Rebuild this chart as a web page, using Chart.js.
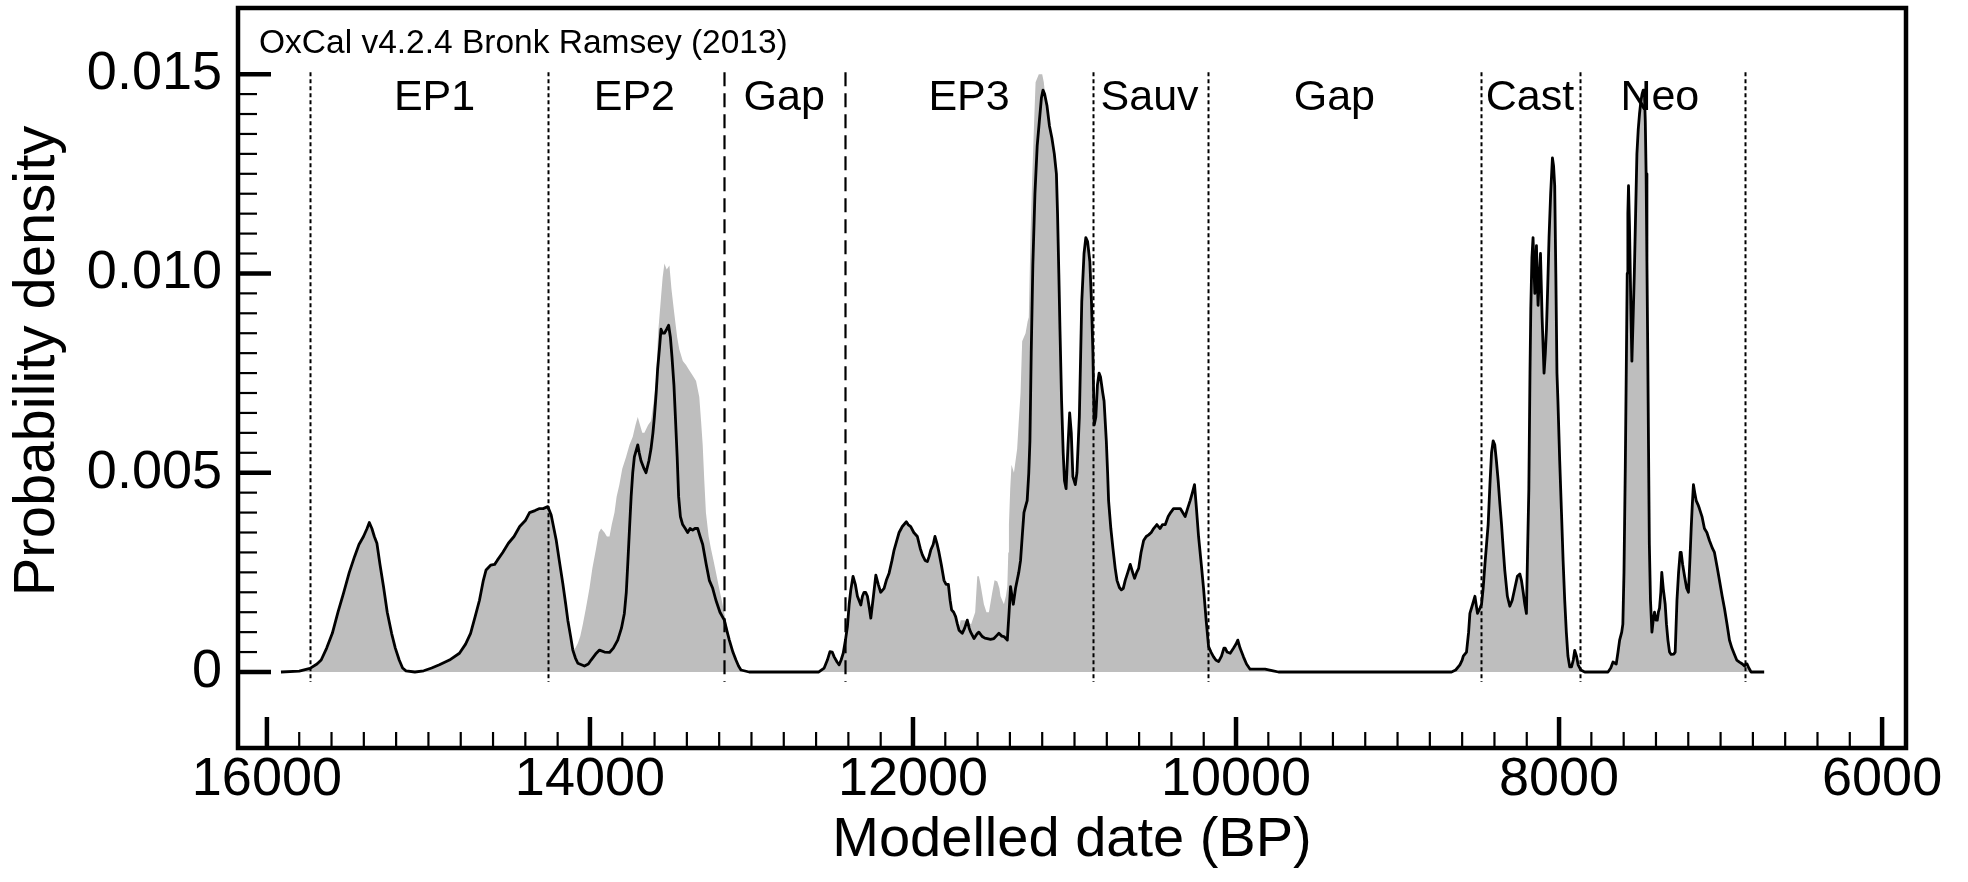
<!DOCTYPE html>
<html>
<head>
<meta charset="utf-8">
<script src="https://cdn.jsdelivr.net/npm/chart.js@4.4.0/dist/chart.umd.min.js"></script>
<style>
  html, body { margin: 0; padding: 0; background: #fff; }
  #wrap { width: 1968px; height: 882px; }
</style>
</head>
<body>
<div id="wrap"><canvas id="c" width="1968" height="882"></canvas></div>
<script>
// ---------------- DATA ----------------
// Modelled summed probability (black outline), [year BP, density]
const modelledEarly = [
  [15913,0],[15800,0.00002],[15733,0.00009],[15690,0.0002],[15664,0.0003],[15630,0.0006],[15595,0.00097],
  [15560,0.0015],[15526,0.00197],[15490,0.0025],[15457,0.0029],[15430,0.0032],[15402,0.0034],[15380,0.0036],
  [15366,0.00375],[15350,0.0036],[15335,0.0034],[15319,0.00323],[15300,0.0027],[15278,0.00214],[15255,0.0015],
  [15228,0.00097],[15205,0.0006],[15181,0.0003],[15160,0.0001],[15139,0.00003],[15084,0],[15029,0.00003],
  [14980,0.0001],[14932,0.00018],[14870,0.0003],[14808,0.00047],[14770,0.0007],[14739,0.00097],[14710,0.0014],
  [14684,0.0018],[14660,0.0023],[14643,0.00256],[14615,0.00268],[14590,0.0027],[14574,0.0028],[14540,0.003],
  [14505,0.00323],[14470,0.0034],[14435,0.00365],[14400,0.0038],[14374,0.004],[14340,0.00405],[14312,0.0041],
  [14290,0.0041],[14261,0.00415],[14240,0.00394],[14209,0.00331],[14190,0.0028],[14168,0.00222],[14150,0.0017],
  [14137,0.0013],[14120,0.0009],[14106,0.00055],[14090,0.00035],[14075,0.00022],[14034,0.00015],[14010,0.0002],
  [13993,0.0003],[13965,0.00045],[13941,0.00055],[13910,0.0005],[13879,0.00049],[13855,0.0006],[13828,0.0008],
  [13805,0.0011],[13787,0.00147],[13775,0.002],[13766,0.0027],[13755,0.0036],[13745,0.0044],[13735,0.005],
  [13725,0.0054],[13704,0.0057],[13695,0.0055],[13684,0.0053],[13665,0.0051],[13653,0.005],[13635,0.0053],
  [13622,0.0056],[13610,0.006],[13601,0.0064],[13590,0.007],[13581,0.0076],[13570,0.0081],[13560,0.0086],
  [13550,0.0085],[13539,0.0085],[13525,0.0086],[13513,0.0087],[13502,0.0084],[13492,0.0079],[13480,0.0072],
  [13471,0.0064],[13460,0.0054],[13451,0.0044],[13440,0.0039],[13426,0.0037],[13410,0.0036],[13395,0.0035],
  [13380,0.0036],[13364,0.00356],[13350,0.0036],[13333,0.0036],[13318,0.0034],[13302,0.0032],[13280,0.0027],
  [13261,0.0023],[13240,0.0021],[13220,0.0018],[13195,0.0015],[13168,0.0013],[13150,0.001],[13137,0.0008],
  [13115,0.0005],[13096,0.0003],[13080,0.00015],[13065,0.00005],[13014,0]
];
const modelledMiddle = [
  [12583,0],[12550,0.0001],[12530,0.0003],[12514,0.00051],[12500,0.0005],[12488,0.00038],[12470,0.00025],
  [12457,0.00018],[12445,0.0003],[12432,0.00047],[12418,0.0008],[12406,0.00114],[12395,0.0017],[12385,0.00206],
  [12371,0.0024],[12357,0.0022],[12344,0.0019],[12323,0.00168],[12313,0.0019],[12303,0.002],[12293,0.002],
  [12282,0.0019],[12270,0.0016],[12261,0.00135],[12245,0.0019],[12230,0.00243],[12215,0.0022],[12200,0.002],
  [12179,0.0021],[12165,0.0023],[12148,0.00248],[12130,0.0028],[12117,0.00306],[12100,0.0033],[12086,0.0035],
  [12066,0.00365],[12041,0.00377],[12030,0.0037],[12014,0.00365],[11995,0.0035],[11973,0.0034],[11955,0.0031],
  [11942,0.00294],[11925,0.0028],[11911,0.00277],[11900,0.0029],[11890,0.00306],[11875,0.0032],[11864,0.0034],
  [11850,0.0032],[11839,0.003],[11825,0.0027],[11808,0.0023],[11795,0.0022],[11781,0.0022],[11770,0.0018],
  [11761,0.00156],[11748,0.0015],[11736,0.00139],[11725,0.0012],[11715,0.00105],[11695,0.00097],[11680,0.0011],
  [11664,0.0013],[11652,0.0011],[11643,0.001],[11622,0.00084],[11605,0.00095],[11592,0.001],[11571,0.00089],
  [11555,0.00085],[11540,0.00084],[11520,0.00082],[11499,0.00084],[11485,0.0009],[11468,0.00097],[11450,0.0009],
  [11437,0.00089],[11416,0.0008],[11405,0.0015],[11396,0.00214],[11387,0.0019],[11379,0.0017],[11365,0.0021],
  [11355,0.0023],[11345,0.0025],[11334,0.0028],[11322,0.0035],[11313,0.004],[11300,0.0042],[11293,0.0043],
  [11283,0.005],[11276,0.0058],[11268,0.008],[11258,0.0102],[11245,0.012],[11231,0.0132],[11218,0.0138],
  [11205,0.0144],[11195,0.0146],[11185,0.0145],[11170,0.0142],[11155,0.0137],[11140,0.0134],[11125,0.013],
  [11112,0.0125],[11105,0.0115],[11097,0.01],[11090,0.0086],[11080,0.0068],[11070,0.0055],[11062,0.0048],
  [11052,0.0046],[11040,0.0057],[11030,0.0065],[11020,0.006],[11010,0.0049],[10995,0.0047],[10985,0.005],
  [10970,0.0064],[10955,0.0093],[10941,0.0105],[10930,0.0109],[10919,0.0108],[10905,0.0103],[10895,0.0093],
  [10886,0.008],[10878,0.0062],[10868,0.0064],[10858,0.0072],[10848,0.0075],[10839,0.0074],[10825,0.007],
  [10817,0.0068],[10803,0.0058],[10795,0.005],[10789,0.0043],[10775,0.0036],[10762,0.0031],[10748,0.0026],
  [10737,0.0023],[10722,0.00212],[10710,0.00206],[10698,0.0021],[10686,0.0023],[10670,0.0025],[10655,0.0027],
  [10640,0.0025],[10628,0.00235],[10615,0.0025],[10603,0.0026],[10588,0.003],[10572,0.0033],[10556,0.0034],
  [10541,0.00344],[10525,0.0035],[10510,0.0036],[10490,0.0037],[10470,0.0036],[10455,0.0037],[10438,0.0037],
  [10420,0.0039],[10405,0.004],[10387,0.0041],[10365,0.0041],[10345,0.0041],[10330,0.004],[10315,0.0039],
  [10300,0.0041],[10284,0.0043],[10270,0.0045],[10257,0.0047],[10245,0.0041],[10232,0.0034],[10215,0.0027],
  [10201,0.0021],[10185,0.0013],[10170,0.00064],[10155,0.0005],[10139,0.00038],[10125,0.0003],[10108,0.00026],
  [10090,0.0004],[10075,0.0006],[10067,0.0006],[10055,0.0005],[10036,0.00047],[10015,0.0006],[10000,0.0007],
  [9989,0.0008],[9975,0.0006],[9954,0.00038],[9935,0.0002],[9913,0.00007],[9870,0.00007],[9820,0.00007],
  [9770,0.00003],[9737,0]
];
const modelledCast = [
  [8680,0],[8666,0],[8640,0.00005],[8614,0.00018],[8600,0.0003],[8593,0.0004],[8573,0.0005],[8560,0.001],
  [8552,0.00147],[8535,0.0017],[8521,0.0019],[8505,0.00147],[8490,0.0016],[8480,0.0017],[8470,0.0021],
  [8459,0.0027],[8449,0.0032],[8439,0.0037],[8428,0.0047],[8418,0.0055],[8408,0.0058],[8398,0.0057],
  [8388,0.0053],[8377,0.0048],[8366,0.0042],[8356,0.0037],[8346,0.0031],[8336,0.00255],[8320,0.0019],
  [8305,0.00165],[8290,0.0018],[8274,0.0021],[8258,0.0024],[8243,0.00246],[8233,0.0023],[8222,0.002],
  [8212,0.0017],[8202,0.00147],[8195,0.003],[8187,0.0046],[8180,0.0075],[8175,0.0091],[8168,0.0104],
  [8161,0.0109],[8155,0.0101],[8150,0.0095],[8145,0.0101],[8140,0.0107],[8135,0.0099],[8130,0.0092],
  [8122,0.0099],[8115,0.0105],[8110,0.0097],[8105,0.0089],[8099,0.0082],[8093,0.0075],[8085,0.008],
  [8078,0.0086],[8070,0.0097],[8062,0.0109],[8052,0.012],[8041,0.0129],[8034,0.0127],[8027,0.0122],
  [8020,0.01],[8013,0.0075],[8007,0.0068],[7996,0.0053],[7985,0.004],[7975,0.0028],[7965,0.0018],
  [7955,0.001],[7945,0.0004],[7934,0.00013],[7923,0.00013],[7912,0.0003],[7903,0.00054],[7892,0.0004],
  [7882,0.00018],[7865,0.00005],[7841,0]
];
const modelledNeo = [
  [7697,0],[7680,0.0001],[7666,0.00025],[7646,0.0002],[7635,0.0005],[7625,0.0008],[7612,0.001],[7605,0.0012],
  [7598,0.0025],[7590,0.0051],[7584,0.0075],[7578,0.01],[7574,0.0115],[7570,0.0122],[7564,0.0112],
  [7559,0.01],[7554,0.0088],[7549,0.0078],[7542,0.0088],[7534,0.01],[7526,0.0115],[7518,0.013],[7510,0.0136],
  [7502,0.014],[7494,0.0143],[7486,0.0145],[7479,0.0146],[7472,0.0146],[7466,0.0138],[7461,0.0125],
  [7456,0.0103],[7451,0.0081],[7446,0.0056],[7441,0.0032],[7434,0.0018],[7425,0.001],[7417,0.0013],
  [7409,0.0015],[7400,0.0013],[7392,0.0013],[7385,0.0015],[7378,0.0016],[7370,0.002],[7364,0.0025],
  [7355,0.0021],[7343,0.0017],[7335,0.0012],[7326,0.0008],[7316,0.0005],[7306,0.00044],[7290,0.00045],
  [7281,0.0005],[7270,0.0018],[7260,0.0025],[7250,0.003],[7244,0.003],[7235,0.0027],[7223,0.0024],
  [7210,0.0021],[7199,0.002],[7190,0.0028],[7182,0.0036],[7175,0.0042],[7168,0.0047],[7160,0.0045],
  [7151,0.0043],[7140,0.0042],[7131,0.0041],[7115,0.0039],[7100,0.0036],[7085,0.0035],[7069,0.0033],
  [7050,0.0031],[7038,0.003],[7020,0.0026],[7007,0.0023],[6990,0.0019],[6976,0.0016],[6960,0.0012],
  [6945,0.0008],[6930,0.0006],[6914,0.00044],[6900,0.0003],[6883,0.00025],[6865,0.0002],[6852,0.00015],
  [6844,0.0002],[6836,0.0002],[6825,0.0001],[6811,0],[6730,0]
];
// Unmodelled sum (grey area) where it rises above the modelled curve
const unmodelledEP2 = [
  [14110,0],[14106,0.00055],[14090,0.0006],[14075,0.00072],[14060,0.0009],[14044,0.0012],[14025,0.0016],
  [14003,0.0021],[13985,0.0026],[13962,0.0031],[13945,0.0035],[13931,0.0036],[13910,0.0035],[13895,0.0034],
  [13879,0.0034],[13865,0.0037],[13848,0.004],[13835,0.0044],[13818,0.0047],[13800,0.0051],[13776,0.0054],
  [13755,0.0057],[13735,0.0059],[13718,0.0062],[13704,0.0064],[13690,0.0062],[13676,0.006],[13663,0.006],
  [13640,0.0062],[13622,0.0063],[13605,0.0068],[13591,0.0073],[13578,0.0085],[13560,0.0094],[13550,0.0099],
  [13539,0.01025],[13525,0.0101],[13508,0.0102],[13495,0.0096],[13478,0.009],[13460,0.0084],[13447,0.0081],
  [13425,0.0078],[13405,0.0077],[13390,0.0076],[13374,0.0075],[13358,0.0074],[13343,0.0073],[13333,0.0071],
  [13323,0.0069],[13312,0.0063],[13302,0.0057],[13292,0.0048],[13282,0.004],[13265,0.0034],[13251,0.0031],
  [13235,0.0028],[13220,0.0025],[13200,0.0021],[13179,0.0017],[13160,0.0013],[13137,0.0009],[13120,0.0005],
  [13100,0]
];
const unmodelledEP3 = [
  [11730,0],[11720,0.001],[11705,0.0013],[11680,0.0013],[11640,0.0012],[11615,0.0015],[11602,0.0024],
  [11592,0.0024],[11582,0.0022],[11561,0.0017],[11545,0.0015],[11530,0.0015],[11509,0.002],[11495,0.0023],
  [11478,0.00227],[11465,0.0021],[11458,0.0019],[11437,0.0017],[11425,0.0019],[11416,0.00214],[11410,0.003],
  [11406,0.0037],[11398,0.0046],[11390,0.0052],[11375,0.005],[11355,0.0056],[11345,0.0063],[11334,0.007],
  [11324,0.0083],[11303,0.0085],[11290,0.0088],[11283,0.0089],[11272,0.011],[11262,0.0124],[11250,0.0138],
  [11241,0.0148],[11221,0.015],[11200,0.015],[11190,0.0148],[11180,0.0144],[11165,0.014],[11140,0]
];
// Phase boundaries and labels
const boundaryYears  = [15733, 14259, 13168, 12418, 10883, 10174, 8481, 7870, 6848];
const gapBoundaries  = [13168, 12418];
const periodNames    = ['EP1', 'EP2', 'Gap', 'EP3', 'Sauv', 'Gap', 'Cast', 'Neo'];
const periodLabelYrs = [14962, 13725, 12797, 11653, 10535, 9391, 8180, 7376];
// Axis ticks
const xMajorTicks = [16000, 14000, 12000, 10000, 8000, 6000];
const xTickLabels = ['16000', '14000', '12000', '10000', '8000', '6000'];
const yMajorTicks = [0, 0.005, 0.010, 0.015];
const yTickLabels = ['0', '0.005', '0.010', '0.015'];
const calibText = 'OxCal v4.2.4 Bronk Ramsey (2013)';

// ---------------- CHART ----------------
const GRAY = '#bebebe';
const FONT = "'Liberation Sans', Arial, Helvetica, sans-serif";
Chart.defaults.font.family = FONT;
Chart.defaults.color = '#000';

const toPts = arr => arr.map(p => ({x: p[0], y: p[1]}));
const modelled = [].concat(modelledEarly, modelledMiddle, modelledCast, modelledNeo);
const unmodelled = [].concat(unmodelledEP2, unmodelledEP3);

function labelFor(majors, labels, v) {
  for (let i = 0; i < majors.length; i++) if (Math.abs(majors[i] - v) < 1e-9) return labels[i];
  return '';
}
function noPad(s) { s.paddingTop = 0; s.paddingBottom = 0; s.paddingLeft = 0; s.paddingRight = 0; }

const decor = {
  id: 'decor',
  afterDatasetsDraw(chart) {
    const {ctx, scales: {x, y}} = chart;
    ctx.save();
    // boundaries
    const yTop = y.getPixelForValue(0.01505), yBot = y.getPixelForValue(-0.00025);
    boundaryYears.forEach(b => {
      const isGap = gapBoundaries.includes(b);
      const px = Math.round(x.getPixelForValue(b)) + 0.5;
      ctx.beginPath();
      ctx.setLineDash(isGap ? [14, 7] : [4, 3]);
      ctx.lineWidth = isGap ? 2.2 : 2;
      ctx.strokeStyle = '#000';
      ctx.moveTo(px, yTop); ctx.lineTo(px, yBot); ctx.stroke();
    });
    ctx.setLineDash([]);
    // period labels
    ctx.fillStyle = '#000';
    ctx.font = '43px ' + FONT;
    ctx.textAlign = 'center';
    ctx.textBaseline = 'alphabetic';
    const ly = y.getPixelForValue(0.0141);
    periodNames.forEach((n, i) => ctx.fillText(n, x.getPixelForValue(periodLabelYrs[i]), ly));
    ctx.restore();
  },
  afterDraw(chart) {
    const {ctx, chartArea: ca, scales: {x, y}} = chart;
    ctx.save();
    ctx.strokeStyle = '#000';
    // y ticks (inside the frame)
    for (let i = 0; i <= 30; i++) {
      const v = i * 0.0005;
      const major = i % 10 === 0;
      const py = y.getPixelForValue(v);
      ctx.beginPath();
      ctx.lineWidth = major ? 4.5 : 2.2;
      ctx.moveTo(ca.left, py); ctx.lineTo(ca.left + (major ? 33 : 19), py); ctx.stroke();
    }
    // x ticks (inside the frame)
    for (let yr = 16000; yr >= 6000; yr -= 200) {
      const major = yr % 2000 === 0;
      const px = x.getPixelForValue(yr);
      ctx.beginPath();
      ctx.lineWidth = major ? 4.5 : 2.2;
      ctx.moveTo(px, ca.bottom); ctx.lineTo(px, ca.bottom - (major ? 31 : 16)); ctx.stroke();
    }
    // frame
    ctx.lineWidth = 4.5;
    ctx.strokeRect(ca.left, ca.top, ca.right - ca.left, ca.bottom - ca.top);
    // calibration note
    ctx.fillStyle = '#000';
    ctx.font = '33.5px ' + FONT;
    ctx.textAlign = 'left';
    ctx.textBaseline = 'alphabetic';
    ctx.fillText(calibText, ca.left + 21, ca.top + 45);
    // y title
    ctx.font = '58px ' + FONT;
    ctx.textAlign = 'center';
    ctx.textBaseline = 'middle';
    ctx.translate(38, 361);
    ctx.rotate(-Math.PI / 2);
    ctx.fillText('Probability density', 0, 0);
    ctx.restore();
  }
};

new Chart(document.getElementById('c'), {
  type: 'line',
  data: {
    datasets: [
      { label: 'Modelled', data: toPts(modelled), borderColor: '#000', borderWidth: 2.8,
        borderJoinStyle: 'round', backgroundColor: GRAY, fill: 'origin', pointRadius: 0, tension: 0 },
      { label: 'Unmodelled', data: toPts(unmodelled), borderColor: 'rgba(0,0,0,0)', borderWidth: 0,
        backgroundColor: GRAY, fill: 'origin', pointRadius: 0, tension: 0 }
    ]
  },
  options: {
    responsive: false, animation: false, devicePixelRatio: 1,
    layout: { padding: { top: 8, right: 62, left: 0, bottom: 0 } },
    plugins: { legend: { display: false }, tooltip: { enabled: false } },
    scales: {
      x: {
        type: 'linear', reverse: true, min: 5852, max: 16179,
        afterFit: s => { s.height = 134; noPad(s); },
        grid: { display: false, drawTicks: false }, border: { display: false },
        ticks: { stepSize: 200, includeBounds: false, autoSkip: false, maxRotation: 0, padding: 0,
                 font: { size: 54 }, color: '#000',
                 callback: v => labelFor(xMajorTicks, xTickLabels, v) },
        title: { display: true, text: 'Modelled date (BP)', font: { size: 56 }, color: '#000',
                 padding: { top: 0, bottom: 8 } }
      },
      y: {
        type: 'linear', min: -0.001907, max: 0.01666,
        afterFit: s => { s.width = 238; noPad(s); },
        grid: { display: false, drawTicks: false }, border: { display: false },
        ticks: { stepSize: 0.0005, includeBounds: false, autoSkip: false, padding: 16,
                 font: { size: 54 }, color: '#000',
                 callback: v => labelFor(yMajorTicks, yTickLabels, v) }
      }
    }
  },
  plugins: [decor]
});
</script>
</body>
</html>
